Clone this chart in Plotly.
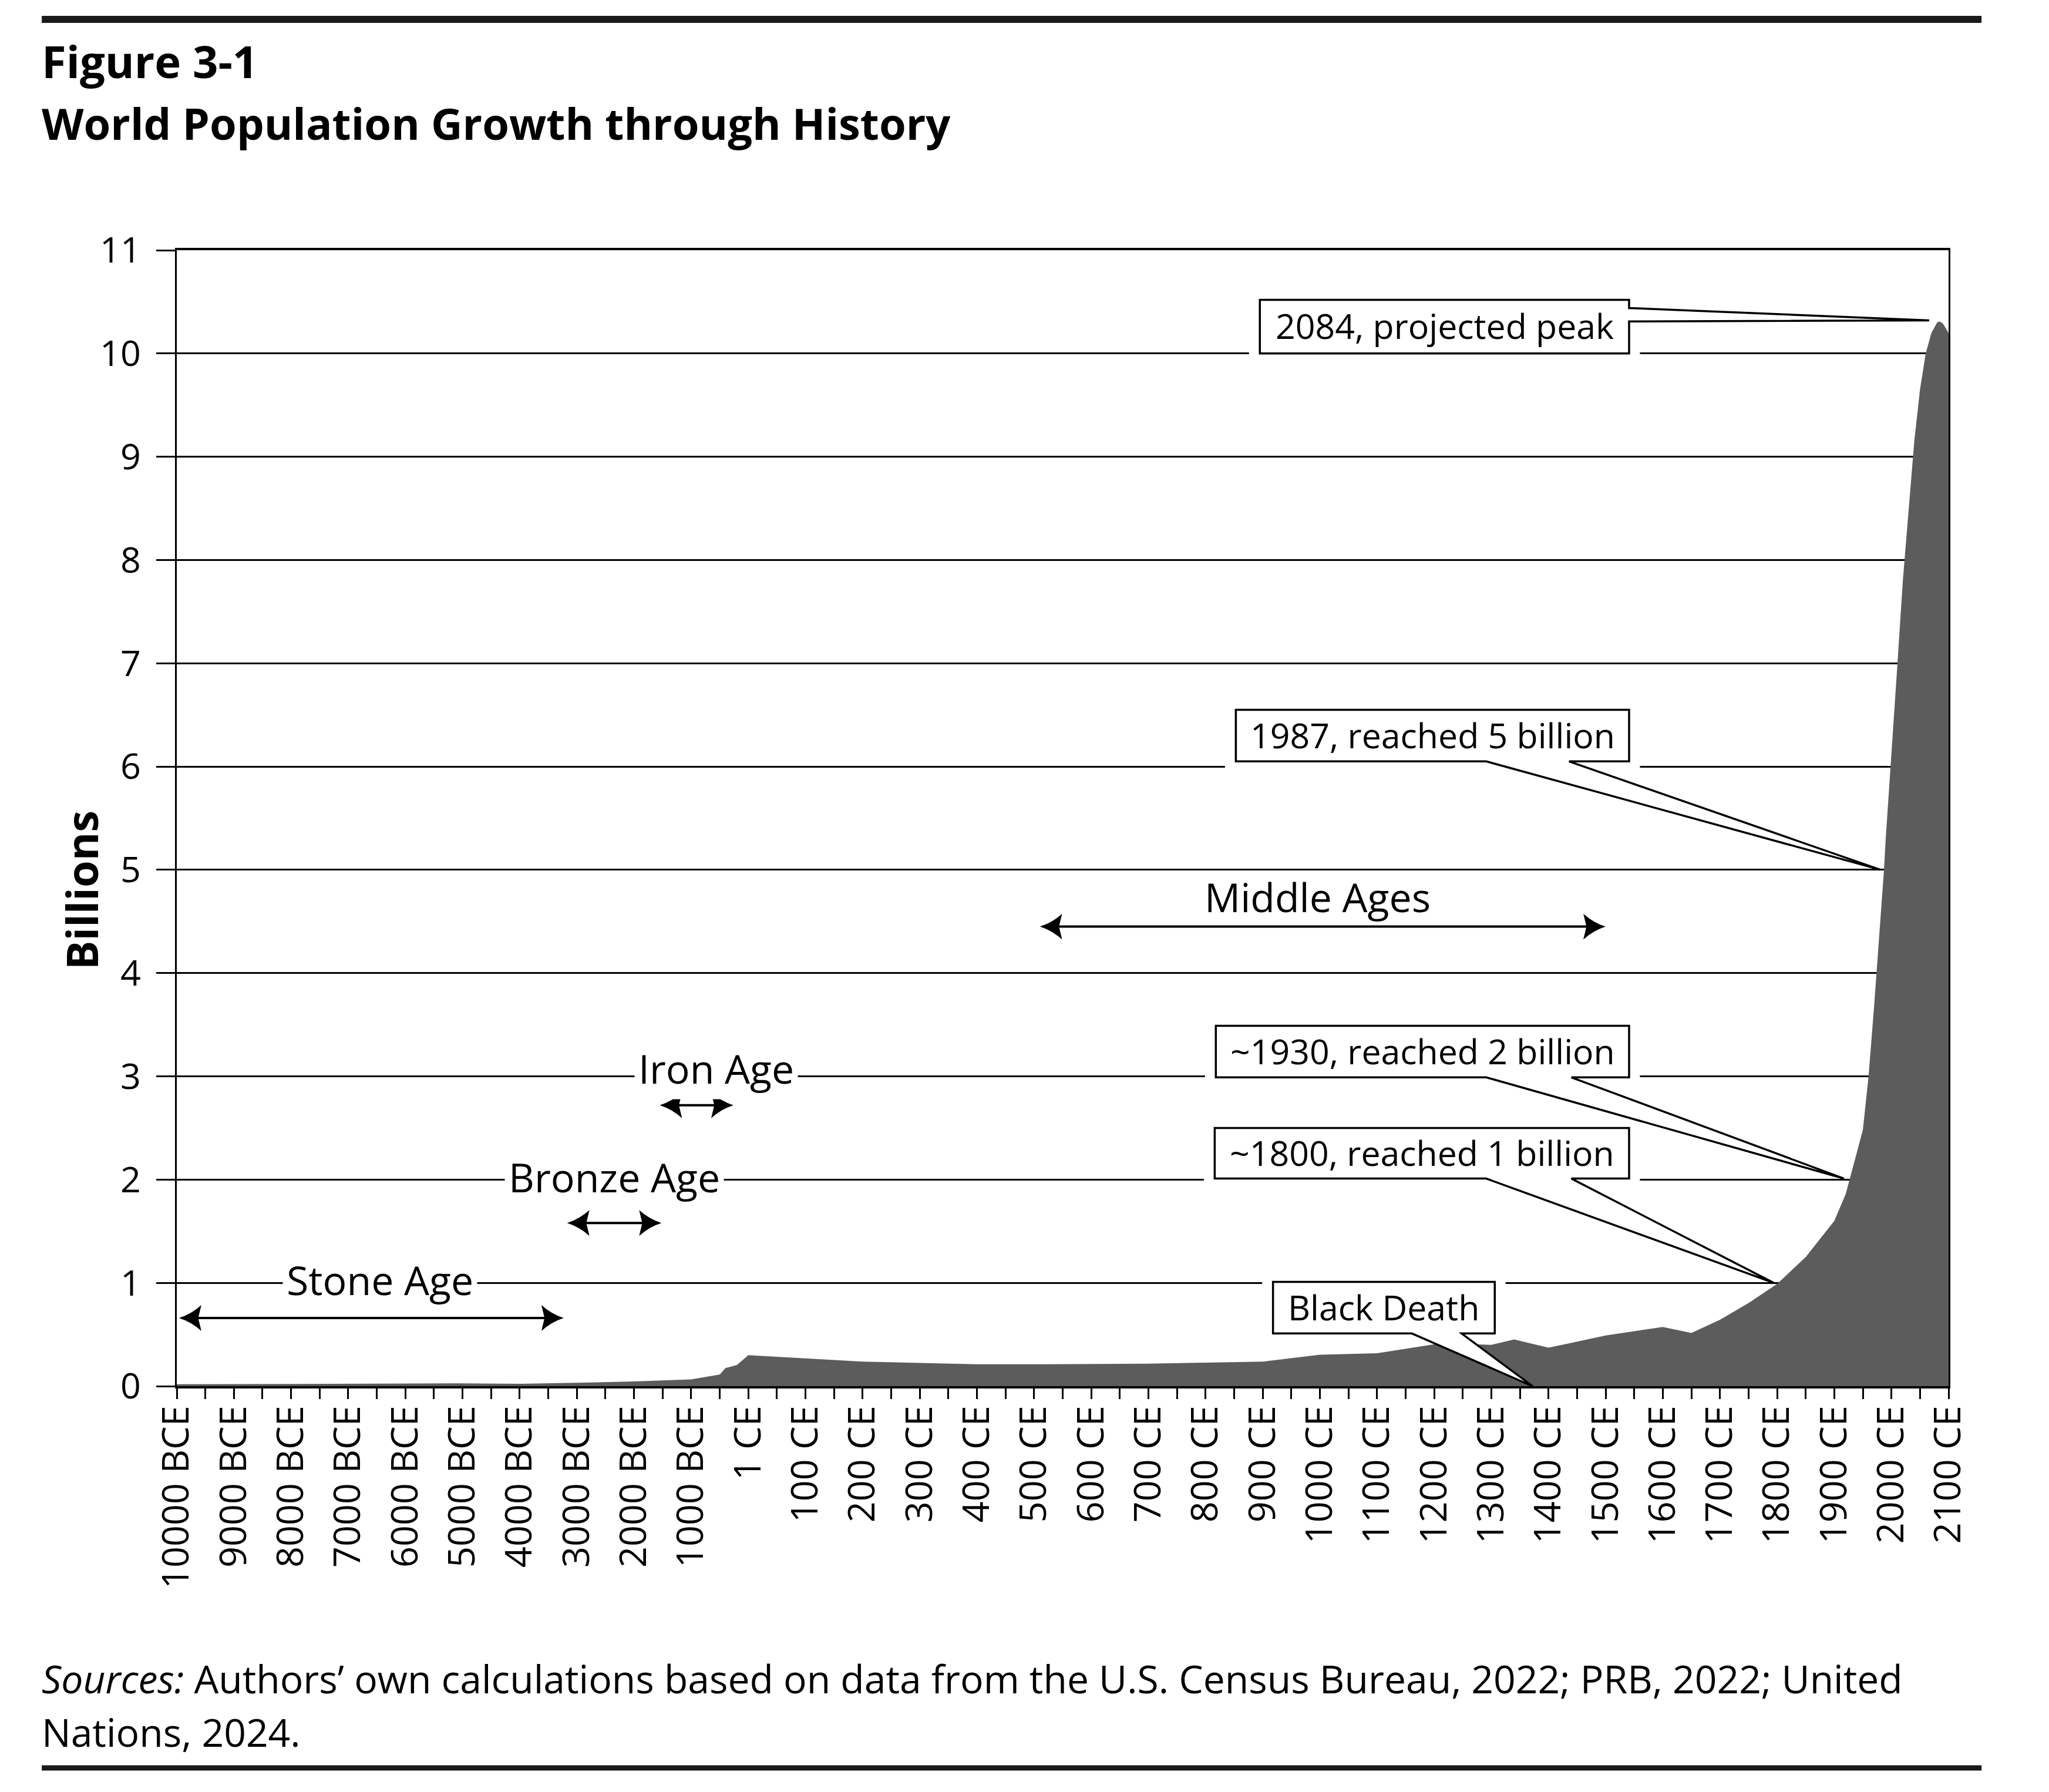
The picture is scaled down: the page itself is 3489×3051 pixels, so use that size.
import plotly.graph_objects as go

# World population in billions
years = [-10000, -9000, -8000, -7000, -6000, -5000, -4000, -3000, -2000, -1000,
         -500, -400, -200, 1, 200, 400, 500, 600, 700, 800, 900, 1000, 1100,
         1200, 1250, 1300, 1340, 1400, 1500, 1600, 1650, 1700, 1750, 1800,
         1850, 1900, 1920, 1950, 1960, 1970, 1980, 1987, 1990, 2000, 2010,
         2020, 2030, 2040, 2050, 2060, 2070, 2080, 2084, 2090, 2100]
population = [0.018, 0.019, 0.020, 0.021, 0.022, 0.027, 0.023, 0.032, 0.046, 0.065,
              0.112, 0.175, 0.205, 0.300, 0.237, 0.212, 0.212, 0.215, 0.218, 0.228,
              0.238, 0.305, 0.318, 0.405, 0.410, 0.400, 0.452, 0.372, 0.490, 0.573,
              0.515, 0.642, 0.805, 0.990, 1.25, 1.60, 1.86, 2.48, 3.00, 3.70, 4.45,
              5.00, 5.30, 6.10, 6.95, 7.80, 8.50, 9.15, 9.65, 10.00, 10.20, 10.30,
              10.31, 10.29, 10.20]

tick_labels = ["10000 BCE", "9000 BCE", "8000 BCE", "7000 BCE", "6000 BCE",
               "5000 BCE", "4000 BCE", "3000 BCE", "2000 BCE", "1000 BCE",
               "1 CE", "100 CE", "200 CE", "300 CE", "400 CE", "500 CE",
               "600 CE", "700 CE", "800 CE", "900 CE", "1000 CE", "1100 CE",
               "1200 CE", "1300 CE", "1400 CE", "1500 CE", "1600 CE", "1700 CE",
               "1800 CE", "1900 CE", "2000 CE", "2100 CE"]
y_ticks = list(range(0, 12))


def axis_pos(year):
    # labels are evenly spaced: 1000-year steps up to 1 CE, 100-year steps after
    if year <= 1:
        return (year + 10000) / 1000
    return 10 + year / 100


FONT = "Open Sans"

fig = go.Figure()
fig.add_trace(go.Scatter(
    x=[axis_pos(y) for y in years], y=population,
    mode="lines", fill="tozeroy", fillcolor="#5c5c5c",
    line=dict(width=0, color="#5c5c5c"), hoverinfo="skip",
))

shapes = []
annotations = []


def double_arrow(x0, x1, y, L=0.39, h=0.125):
    shapes.append(dict(type="line", x0=x0 + 0.8 * L, x1=x1 - 0.8 * L, y0=y, y1=y,
                       line=dict(color="black", width=4), layer="above"))
    for tip, s in ((x0, 1), (x1, -1)):
        p = (f"M {tip},{y} Q {tip + s * 0.55 * L},{y + 0.3 * h} {tip + s * L},{y + h} "
             f"L {tip + s * 0.86 * L},{y} L {tip + s * L},{y - h} "
             f"Q {tip + s * 0.55 * L},{y - 0.3 * h} {tip},{y} Z")
        shapes.append(dict(type="path", path=p, fillcolor="black",
                           line=dict(width=0), layer="above"))


# period labels (text x, text y, span start, span end, arrow y, sits on a gridline)
periods = [
    ("Stone Age", 3.55, 1.03, 0.04, 6.77, 0.66, True),
    ("Bronze Age", 7.65, 2.03, 6.83, 8.48, 1.58, True),
    ("Iron Age", 9.44, 3.08, 8.45, 9.74, 2.72, True),
    ("Middle Ages", 19.96, 4.74, 15.1, 25.0, 4.45, False),
]
for text, tx, ty, ax0, ax1, ay, on_grid in periods:
    annotations.append(dict(x=tx, y=ty, text=text, showarrow=False,
                            bgcolor="white" if on_grid else "rgba(0,0,0,0)",
                            borderpad=6, font=dict(family=FONT, size=68, color="black")))
    double_arrow(ax0, ax1, ay)

# callout bubbles
bubbles = [
    dict(text="2084, projected peak", x0=18.95, x1=25.41, y0=10.0, y1=10.52,
         side=(10.44, 10.31), tip=(30.66, 10.32)),
    dict(text="1987, reached 5 billion", x0=18.53, x1=25.41, y0=6.05, y1=6.55,
         base=(22.91, 24.36), tip=(29.81, 5.0)),
    dict(text="~1930, reached 2 billion", x0=18.18, x1=25.41, y0=2.99, y1=3.49,
         base=(22.91, 24.40), tip=(29.17, 2.01)),
    dict(text="~1800, reached 1 billion", x0=18.16, x1=25.41, y0=2.01, y1=2.50,
         base=(22.91, 24.40), tip=(27.94, 1.0)),
    dict(text="Black Death", x0=19.18, x1=23.06, y0=0.51, y1=1.01,
         base=(21.61, 22.48), tip=(23.72, 0.0)),
]
for b in bubbles:
    x0, x1, y0, y1 = b["x0"], b["x1"], b["y0"], b["y1"]
    tx, ty = b["tip"]
    if "side" in b:
        ya, yb = b["side"]
        p = (f"M {x0},{y1} L {x1},{y1} L {x1},{ya} L {tx},{ty} L {x1},{yb} "
             f"L {x1},{y0} L {x0},{y0} Z")
    else:
        wl, wr = b["base"]
        p = (f"M {x0},{y1} L {x1},{y1} L {x1},{y0} L {wr},{y0} L {tx},{ty} "
             f"L {wl},{y0} L {x0},{y0} Z")
    # white gap in the gridlines around the box
    shapes.append(dict(type="rect", x0=x0 - 0.19, x1=x1 + 0.19, y0=y0 - 0.07, y1=y1 + 0.05,
                       fillcolor="white", line=dict(width=0), layer="between"))
    shapes.append(dict(type="path", path=p, fillcolor="white",
                       line=dict(color="black", width=3.5), layer="above"))
    annotations.append(dict(x=(x0 + x1) / 2, y=(y0 + y1) / 2 + 0.01, text=b["text"],
                            showarrow=False,
                            font=dict(family=FONT, size=59, color="black")))

# rules above and below the figure
for yp, w in ((1.2032, 12), (-0.3361, 9)):
    shapes.append(dict(type="line", xref="paper", yref="paper", x0=-0.0762, x1=1.0186,
                       y0=yp, y1=yp, line=dict(color="#1a1a1a", width=w)))

annotations += [
    dict(xref="paper", yref="paper", x=-0.0768, y=1.1667, xanchor="left", yanchor="middle",
         text="<b>Figure 3-1</b>", showarrow=False,
         font=dict(family=FONT, size=76, color="black")),
    dict(xref="paper", yref="paper", x=-0.0768, y=1.1117, xanchor="left", yanchor="middle",
         text="<b>World Population Growth through History</b>", showarrow=False,
         font=dict(family=FONT, size=74, color="black")),
    dict(xref="paper", yref="y", x=-0.054, y=4.8, textangle=-90,
         xanchor="center", yanchor="middle",
         text="<b>Billions</b>", showarrow=False,
         font=dict(family=FONT, size=74, color="black")),
    dict(xref="paper", yref="paper", x=-0.0768, y=-0.257, xanchor="left", yanchor="middle",
         text="<i>Sources:</i> Authors\u2019 own calculations based on data from the "
              "U.S. Census Bureau, 2022; PRB, 2022; United",
         showarrow=False, font=dict(family=FONT, size=66, color="black")),
    dict(xref="paper", yref="paper", x=-0.0768, y=-0.304, xanchor="left", yanchor="middle",
         text="Nations, 2024.", showarrow=False,
         font=dict(family=FONT, size=66, color="black")),
]

tickvals = [i / 2 for i in range(2 * (len(tick_labels) - 1) + 1)]
ticktext = [tick_labels[int(v)] if v == int(v) else "" for v in tickvals]

fig.update_layout(
    width=3489, height=3051, autosize=False,
    # the page body adds an 8px offset, so the left/top margins are trimmed by it
    margin=dict(l=293, r=179, t=418, b=699),
    paper_bgcolor="white", plot_bgcolor="white",
    showlegend=False,
    shapes=shapes, annotations=annotations,
    font=dict(family=FONT, color="black"),
)
fig.update_xaxes(
    range=[0, len(tick_labels) - 1], tickmode="array",
    tickvals=tickvals, ticktext=ticktext, tickangle=-90,
    ticks="outside", ticklen=18, tickwidth=3, tickcolor="black",
    tickfont=dict(family=FONT, size=63, color="black"), ticklabelstandoff=-14,
    showline=True, linewidth=4, linecolor="black", mirror=True,
    showgrid=False, zeroline=False,
)
fig.update_yaxes(
    range=[0, 11], tickmode="array", tickvals=y_ticks,
    ticks="outside", ticklen=32, tickwidth=3, tickcolor="black",
    tickfont=dict(family=FONT, size=61, color="black"), ticklabelstandoff=14,
    showline=True, linewidth=3, linecolor="black", mirror=True,
    showgrid=True, gridcolor="black", gridwidth=2.5, zeroline=False,
)

fig.write_html("out.html")
